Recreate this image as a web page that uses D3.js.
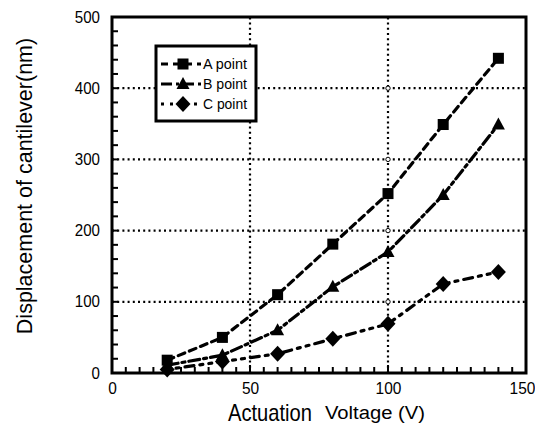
<!DOCTYPE html>
<html><head><meta charset="utf-8">
<script src="https://cdn.jsdelivr.net/npm/d3@7"></script>
<style>html,body{margin:0;padding:0;background:#fff;}svg{display:block;}</style>
</head><body>
<svg id="c" width="535" height="432"></svg>
<script>
const voltages = [20, 40, 60, 80, 100, 120, 140];
const seriesA = [18, 50, 110, 181, 252, 349, 442];
const seriesB = [11, 25, 60, 121, 170, 250, 349];
const seriesC = [5, 16, 27, 48, 69, 125, 142];
const seriesNames = ["A point", "B point", "C point"];
const xTicks = [0, 50, 100, 150];
const yTicks = [0, 100, 200, 300, 400, 500];

const svg = d3.select("#c");
const x = d3.scaleLinear().domain([0, 150]).range([112, 526]);
const y = d3.scaleLinear().domain([0, 500]).range([373, 17]);
const font = "Arial, 'Liberation Sans', sans-serif";

// gridlines
const grid = svg.append("g").attr("stroke", "#000").attr("stroke-width", 2.2)
  .attr("stroke-dasharray", "2,3.2").attr("stroke-linecap", "butt");
[100, 200, 300, 400].forEach(v => grid.append("line")
  .attr("x1", x(0)).attr("x2", x(150)).attr("y1", y(v)).attr("y2", y(v)));
[50, 100].forEach(v => grid.append("line")
  .attr("x1", x(v)).attr("x2", x(v)).attr("y1", y(0)).attr("y2", y(500)));
[100, 200, 300, 400].forEach(v => svg.append("circle")
  .attr("cx", x(100)).attr("cy", y(v)).attr("r", 2.2)
  .attr("fill", "#fff").attr("stroke", "#000").attr("stroke-width", 1));

// axes
const xAxis = d3.axisBottom(x).tickValues(xTicks).tickSize(0).tickPadding(10);
const gx = svg.append("g").attr("transform", `translate(0,${y(0)})`).call(xAxis);
gx.select(".domain").remove();
gx.selectAll("text").attr("font-family", font).attr("font-size", 16).attr("fill", "#000")
  .attr("dx", d => d === 150 ? -4 : 0)
  .attr("textLength", d => String(d).length * 8.6).attr("lengthAdjust", "spacingAndGlyphs");

const yAxis = d3.axisLeft(y).tickValues(yTicks).tickSize(0).tickPadding(12);
const gy = svg.append("g").attr("transform", `translate(${x(0)},0)`).call(yAxis);
gy.select(".domain").remove();
gy.selectAll("text").attr("font-family", font).attr("font-size", 16).attr("fill", "#000")
  .attr("textLength", d => String(d).length * 8.4).attr("lengthAdjust", "spacingAndGlyphs");

// minor ticks (inside)
const minorX = d3.range(5, 150, 5);
svg.append("g").selectAll("line").data(minorX).join("line")
  .attr("x1", d => x(d)).attr("x2", d => x(d))
  .attr("y1", y(0)).attr("y2", d => y(0) - (d % 50 === 0 ? 8 : 6))
  .attr("stroke", "#000").attr("stroke-width", 2);
const minorY = d3.range(20, 500, 20);
svg.append("g").selectAll("line").data(minorY).join("line")
  .attr("x1", x(0)).attr("x2", x(0) + 6)
  .attr("y1", d => y(d)).attr("y2", d => y(d))
  .attr("stroke", "#000").attr("stroke-width", 2);

// frame
svg.append("rect").attr("x", x(0)).attr("y", y(500))
  .attr("width", x(150) - x(0)).attr("height", y(0) - y(500))
  .attr("fill", "none").attr("stroke", "#000").attr("stroke-width", 3);

// series
const series = [
  {name: seriesNames[0], vals: seriesA, dash: "7,5", marker: "square"},
  {name: seriesNames[1], vals: seriesB, dash: "11,4,3,4", marker: "triangle"},
  {name: seriesNames[2], vals: seriesC, dash: "3,6,3,6,9,6", marker: "diamond"}
];
const line = d3.line().x(d => x(d[0])).y(d => y(d[1]));
function marker(g, type, cx, cy) {
  if (type === "square") g.append("rect").attr("x", cx - 5.5).attr("y", cy - 5.5).attr("width", 11).attr("height", 11).attr("fill", "#000");
  else if (type === "triangle") g.append("path").attr("d", `M${cx},${cy-7}L${cx+6.5},${cy+5}L${cx-6.5},${cy+5}Z`).attr("fill", "#000");
  else g.append("path").attr("d", `M${cx},${cy-8}L${cx+7.5},${cy}L${cx},${cy+8}L${cx-7.5},${cy}Z`).attr("fill", "#000");
}
series.forEach(s => {
  const pts = voltages.map((v, i) => [v, s.vals[i]]);
  svg.append("path").datum(pts).attr("d", line)
    .attr("fill", "none").attr("stroke", "#000").attr("stroke-width", 3.2)
    .attr("stroke-dasharray", s.dash).attr("stroke-linecap", "round");
  const g = svg.append("g");
  pts.forEach(p => marker(g, s.marker, x(p[0]), y(p[1])));
});

// legend
const lg = svg.append("g");
lg.append("rect").attr("x", 156).attr("y", 46).attr("width", 100).attr("height", 75)
  .attr("fill", "#fff").attr("stroke", "#000").attr("stroke-width", 3);
series.forEach((s, i) => {
  const ly = 64 + i * 20;
  lg.append("line").attr("x1", 161).attr("x2", 201).attr("y1", ly).attr("y2", ly)
    .attr("stroke", "#000").attr("stroke-width", 3).attr("stroke-dasharray", s.dash);
  marker(lg, s.marker, 183, ly);
  lg.append("text").attr("x", 203).attr("y", ly + 5).text(s.name)
    .attr("font-family", font).attr("font-size", 14).attr("fill", "#000")
    .attr("textLength", 44).attr("lengthAdjust", "spacingAndGlyphs");
});

// axis titles
svg.append("text").attr("transform", "translate(32,186) rotate(-90)")
  .attr("text-anchor", "middle").attr("font-family", font)
  .attr("font-size", 21.5).attr("fill", "#000").text("Displacement of cantilever(nm)");
svg.append("text").attr("x", 228).attr("y", 421).attr("font-family", font)
  .attr("font-size", 24).attr("fill", "#000").attr("textLength", 84)
  .attr("lengthAdjust", "spacingAndGlyphs").text("Actuation");
svg.append("text").attr("x", 325).attr("y", 419).attr("font-family", font)
  .attr("font-size", 18).attr("fill", "#000").attr("textLength", 100)
  .attr("lengthAdjust", "spacingAndGlyphs").text("Voltage (V)");
</script>
</body></html>
